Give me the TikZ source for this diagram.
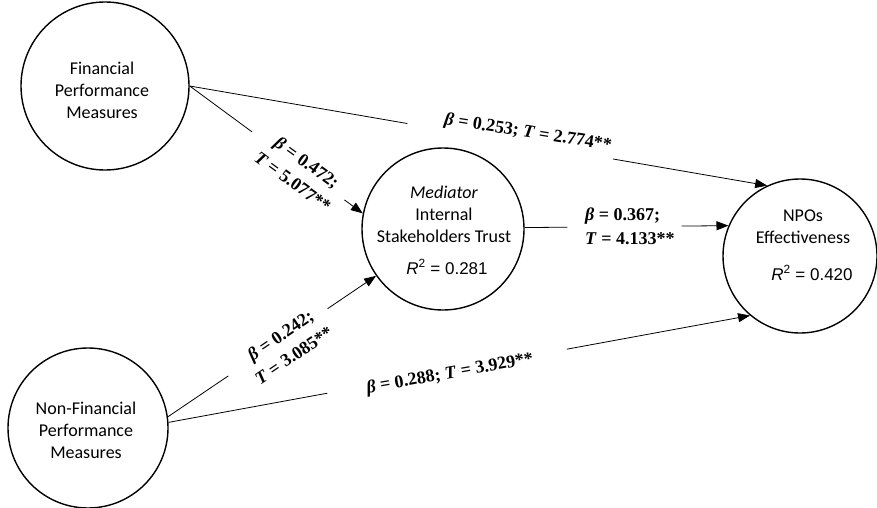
\documentclass[tikz,border=0pt]{standalone}
\usepackage{fontspec}
\setmainfont{Carlito}
\newfontfamily\lsans{Liberation Sans}
\newfontfamily\tnr{Liberation Serif}
\usetikzlibrary{arrows.meta,calc}
\begin{document}
\begin{tikzpicture}[x=1pt,y=-1pt,
  construct/.style={circle, draw, line width=1.4pt, minimum size=#1, inner sep=0pt},
  ctext/.style={font=\fontsize{18}{22}\selectfont, align=center, inner sep=0pt},
  rsq/.style={font=\lsans\fontsize{17}{20}\selectfont, inner sep=0pt},
  link/.style={line width=0.8pt},
  arr/.style={link, -{Triangle[length=12pt,width=9pt]}},
  coef/.style={font=\fontsize{18}{24}\selectfont\tnr\bfseries, align=center, inner sep=0pt}]
\useasboundingbox (0,0) rectangle (877,508);

% constructs
\node[construct=168pt] (fin) at (105,86) {};
\node[construct=162pt] (med) at (443,229) {};
\node[construct=154pt] (npo) at (800,256) {};
\node[construct=160pt] (nf) at (88,428) {};

% construct texts
\node[ctext] (fint) at (102,90) {Financial\\Performance\\Measures};
\node[ctext] (nft) at (86,430) {Non-Financial\\Performance\\Measures};
\node[ctext] (medt) at (444,214) {\textit{Mediator}\\Internal\\Stakeholders Trust};
\node[rsq] (medr) at (447,267) {\textit{R}\textsuperscript{2} = 0.281};
\node[ctext] (npot) at (803,227) {NPOs\\Effectiveness};
\node[rsq] (npor) at (812,273) {\textit{R}\textsuperscript{2} = 0.420};

% Financial -> NPO
\draw[link] (fin.east) -- ($(fin.east)!0.377!(npo.115)$);
\draw[arr] ($(fin.east)!0.733!(npo.115)$) -- (npo.115);
\node[coef, rotate=-9] (c1) at (528,133) {\textit{β} = 0.253; \textit{T} = 2.774**};

% Financial -> Mediator
\draw[link] (fin.east) -- ($(fin.east)!0.36!(med.169)$);
\draw[arr] ($(fin.east)!0.894!(med.169)$) -- (med.169);
\node[coef, rotate=-36] (c2) at (300,172) {\textit{β} = 0.472;\\\textit{T} = 5.077**};

% Mediator -> NPO
\draw[link] (med.1) -- ($(med.1)!0.21!(npo.157)$);
\draw[arr] ($(med.1)!0.77!(npo.157)$) -- (npo.157);
\node[coef, align=left, anchor=west] (c3) at (585,226) {\textit{β} = 0.367;\\\textit{T} = 4.133**};

% Non-Financial -> Mediator
\draw[link] (nf.8) -- ($(nf.8)!0.29!(med.215)$);
\draw[arr] ($(nf.8)!0.767!(med.215)$) -- (med.215);
\node[coef, rotate=34] (c4) at (287,345) {\textit{β} = 0.242;\\\textit{T} = 3.085**};

% Non-Financial -> NPO
\draw[link] (nf.4) -- ($(nf.4)!0.273!(npo.230)$);
\draw[arr] ($(nf.4)!0.685!(npo.230)$) -- (npo.230);
\node[coef, rotate=10] (c5) at (450,374) {\textit{β} = 0.288; \textit{T} = 3.929**};
\end{tikzpicture}
\end{document}
